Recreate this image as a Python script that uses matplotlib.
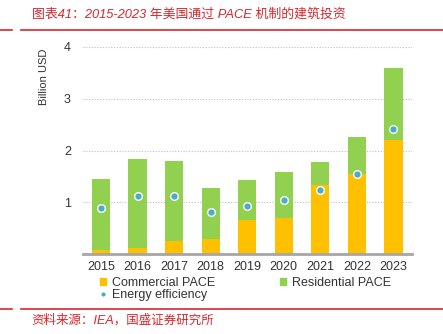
import matplotlib.pyplot as plt
from matplotlib.patches import Patch
from matplotlib.lines import Line2D

plt.rcParams['font.family'] = ['Liberation Sans', 'Noto Sans CJK SC', 'DejaVu Sans']

# data (billion USD)
years = ['2015', '2016', '2017', '2018', '2019', '2020', '2021', '2022', '2023']
commercial = [0.09, 0.13, 0.26, 0.29, 0.66, 0.69, 1.34, 1.55, 2.21]
total = [1.46, 1.83, 1.80, 1.28, 1.43, 1.58, 1.77, 2.26, 3.58]
residential = [t - c for t, c in zip(total, commercial)]
efficiency = [0.90, 1.13, 1.13, 0.82, 0.94, 1.04, 1.23, 1.54, 2.42]

c_com = '#FFC000'
c_res = '#92D050'
c_eff = '#4BACC6'
red = '#D9262E'

fig = plt.figure(figsize=(4.43, 3.34), dpi=100)
ax = fig.add_axes([0.1867, 0.2386, 0.7426, 0.6216])

x = range(len(years))
ax.bar(x, commercial, width=0.5, color=c_com, zorder=2)
ax.bar(x, residential, width=0.5, bottom=commercial, color=c_res, zorder=2)
ax.plot(x, efficiency, linestyle='none', marker='o', markersize=5.5,
        markerfacecolor=c_eff, markeredgecolor='white', markeredgewidth=1, zorder=3)

ax.set_xlim(-0.5, len(years) - 0.5)
ax.set_ylim(0, 4)
ax.set_yticks([1, 2, 3, 4])
ax.set_xticks(list(x))
ax.set_xticklabels(years)
ax.yaxis.grid(True, linestyle=(0, (1, 1.5)), color='#BFBFBF', linewidth=0.8, zorder=0)
for s in ['top', 'right', 'left']:
    ax.spines[s].set_visible(False)
ax.spines['bottom'].set_color('#A6A6A6')
ax.spines['bottom'].set_linewidth(2)
ax.spines['bottom'].set_zorder(4)
ax.tick_params(axis='both', length=0, labelsize=9, colors='#333333')
ax.tick_params(axis='y', pad=8.5)
ax.tick_params(axis='x', pad=5)
ax.set_ylabel('Billion USD', fontsize=8, color='#333333')
ax.yaxis.set_label_coords(-0.103, 0.854)

handles = [Patch(color=c_com), Line2D([], [], linestyle='none', marker='o', markersize=4,
                                       markerfacecolor=c_eff, markeredgecolor='white'),
           Patch(color=c_res)]
labels = ['Commercial PACE', 'Energy efficiency', 'Residential PACE']
fig.legend(handles, labels, ncol=2, loc='upper left', bbox_to_anchor=(0.225, 0.172),
           frameon=False, fontsize=9, handlelength=0.5, handleheight=0.5,
           handletextpad=0.45, columnspacing=5.2, labelspacing=0.05,
           borderpad=0, borderaxespad=0, labelcolor='#333333')

# header and footer
fig.text(0.072, 0.958, '图表41：2015-2023 年美国通过 PACE 机制的建筑投资', color=red,
         fontsize=9.3, style='italic', ha='left', va='center')
fig.text(0.072, 0.042, '资料来源：IEA，国盛证券研究所', color=red,
         fontsize=9, style='italic', ha='left', va='center')
for yy in [1 - 29.5 / 334, 1 - 309 / 334]:
    fig.add_artist(Line2D([0, 12 / 443], [yy, yy], color=red, linewidth=1.2))
    fig.add_artist(Line2D([21 / 443, 1], [yy, yy], color=red, linewidth=1.2))

fig.savefig('out.png', dpi=100)
